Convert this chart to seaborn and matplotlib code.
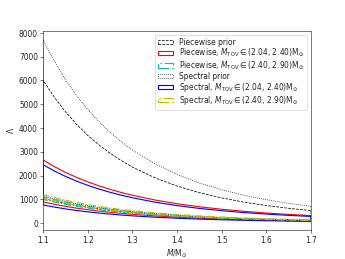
import numpy as np
import seaborn as sns
import matplotlib
matplotlib.use("Agg")
import matplotlib.pyplot as plt

mass = [1.100, 1.125, 1.150, 1.175, 1.200, 1.225, 1.250, 1.275, 1.300,
        1.35, 1.40, 1.45, 1.50, 1.55, 1.60, 1.65, 1.70]

# tidal deformability bands (lower, upper)
pw_prior_lo = [1040, 925, 825, 738, 662, 594, 535, 483, 436, 359, 297, 247, 207, 175, 148, 126, 108]
pw_prior_hi = [6000, 5291, 4678, 4147, 3686, 3284, 2933, 2625, 2354, 1906, 1555, 1277, 1057, 879, 736, 620, 524]
pw_low_lo = [890, 790, 703, 627, 561, 503, 452, 407, 367, 301, 248, 206, 172, 145, 122, 104, 89]
pw_low_hi = [2650, 2374, 2131, 1918, 1730, 1564, 1416, 1286, 1169, 971, 813, 685, 580, 494, 422, 363, 314]
pw_high_lo = [990, 881, 786, 703, 630, 566, 509, 459, 415, 341, 283, 235, 197, 166, 141, 120, 103]
pw_high_hi = [1100, 981, 877, 786, 706, 635, 573, 518, 469, 387, 322, 269, 226, 191, 163, 139, 119]
sp_prior_lo = [1150, 1023, 913, 816, 732, 657, 592, 534, 482, 397, 328, 273, 229, 193, 164, 140, 120]
sp_prior_hi = [7700, 6804, 6030, 5357, 4772, 4260, 3812, 3419, 3072, 2496, 2044, 1685, 1399, 1167, 980, 828, 702]
sp_low_lo = [760, 672, 595, 529, 471, 420, 376, 337, 303, 246, 202, 166, 138, 115, 97, 82, 69]
sp_low_hi = [2450, 2190, 1962, 1762, 1586, 1430, 1293, 1171, 1063, 880, 734, 616, 520, 441, 376, 323, 278]
sp_high_lo = [1060, 943, 841, 752, 674, 606, 545, 492, 445, 365, 303, 252, 211, 178, 151, 129, 110]
sp_high_hi = [1200, 1072, 961, 863, 777, 701, 633, 574, 520, 431, 359, 301, 255, 216, 184, 158, 136]

sns.set_style("ticks")
plt.rcParams['font.family'] = ['DejaVu Sans']
plt.rcParams['mathtext.fontset'] = 'dejavusans'

fig, ax = plt.subplots(figsize=(6.4, 4.8), dpi=54)

bands = [
    (pw_prior_lo, pw_prior_hi, 'k', '--', 1.0, 'Piecewise prior'),
    (pw_low_lo, pw_low_hi, 'r', '-', 1.5, r'Piecewise, $M_{\rm TOV}\in$(2.04, 2.40)M$_{\odot}$'),
    (pw_high_lo, pw_high_hi, 'c', '-.', 1.5, r'Piecewise, $M_{\rm TOV}\in$(2.40, 2.90)M$_{\odot}$'),
    (sp_prior_lo, sp_prior_hi, 'k', ':', 1.0, 'Spectral prior'),
    (sp_low_lo, sp_low_hi, 'b', '-', 1.5, r'Spectral, $M_{\rm TOV}\in$(2.04, 2.40)M$_{\odot}$'),
    (sp_high_lo, sp_high_hi, 'y', '-.', 1.5, r'Spectral, $M_{\rm TOV}\in$(2.40, 2.90)M$_{\odot}$'),
]
for lo, hi, c, ls, lw, lab in bands:
    ax.fill_between(mass, lo, hi, facecolor='none', edgecolor=c,
                    linestyle=ls, linewidth=lw, label=lab)

ax.set_xlim(1.1, 1.7)
ax.set_xlabel(r'$M/\mathrm{M}_{\odot}$')
ax.set_ylabel(r'$\Lambda$')
ax.legend(loc='upper right', fontsize=10, labelspacing=0.0, handleheight=0.6)

fig.savefig("out.png", dpi=54)
